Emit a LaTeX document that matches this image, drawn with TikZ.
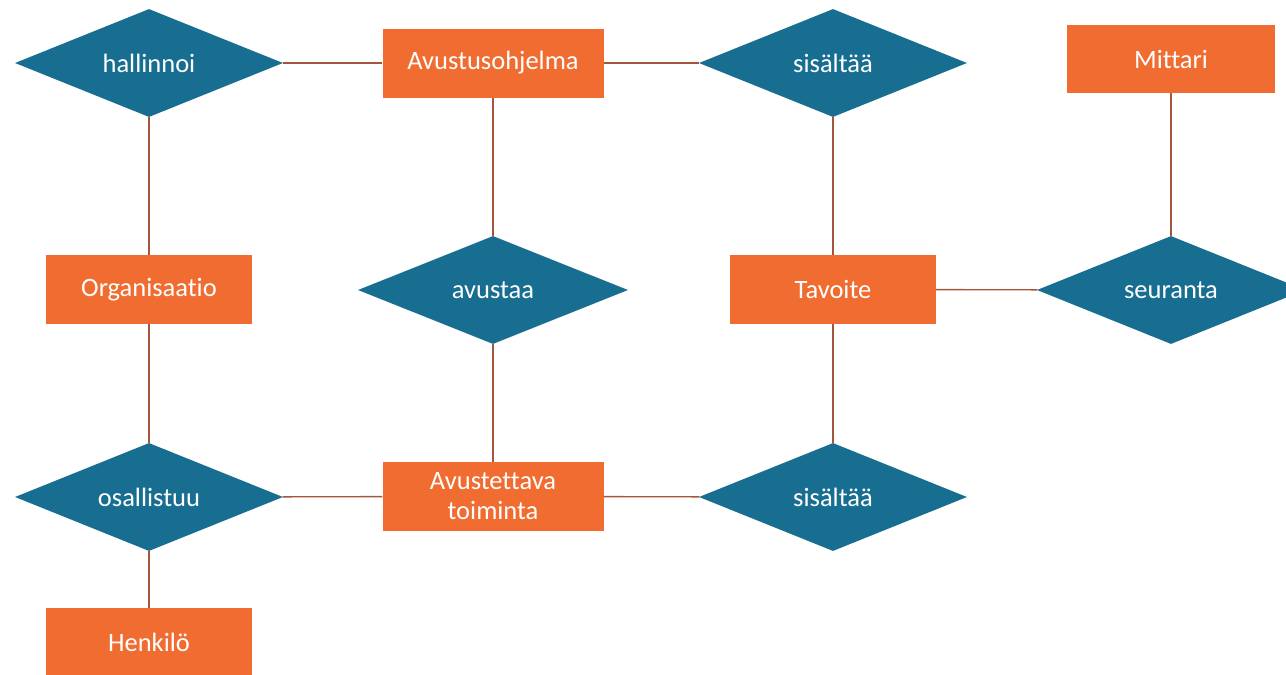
\documentclass[tikz,border=0pt]{standalone}
\usepackage{fontspec}
\setmainfont{Carlito}[Ligatures={NoCommon}]
\usetikzlibrary{shapes.geometric}
\definecolor{entorange}{RGB}{240,108,48}
\definecolor{relblue}{RGB}{24,110,145}
\definecolor{linkbrown}{RGB}{165,85,60}
\tikzset{
  entity/.style={rectangle, fill=entorange, text=white, inner sep=0pt,
    minimum height=69pt, align=center, font=\fontsize{26.5}{30}\selectfont},
  relation/.style={diamond, fill=relblue, text=white, inner sep=0pt,
    aspect=2.47, minimum width=268pt, minimum height=108pt,
    font=\fontsize{26.5}{30}\selectfont},
  link/.style={draw=linkbrown, line width=1.4pt}
}
\begin{document}
\begin{tikzpicture}[x=1pt,y=-1pt]
\clip (0,0) rectangle (1286,675);
\fill[white] (0,0) rectangle (1286,675);
\node[relation] (hall) at (149,63) {hallinnoi};
\node[relation] (sis1) at (833,63) {sisältää};
\node[relation, minimum width=270pt] (avu) at (493,290) {avustaa};
\node[relation] (seur) at (1171,290) {seuranta};
\node[relation] (osal) at (149,497) {osallistuu};
\node[relation] (sis2) at (833,497) {sisältää};
\node[entity, minimum width=221pt] (ohj) at (493,63) {Avustusohjelma};
\node[entity, minimum width=208pt, minimum height=68pt] (mitt) at (1171,59) {Mittari};
\node[entity, minimum width=206pt] (org) at (149,289.5) {Organisaatio};
\node[entity, minimum width=206pt] (tav) at (833,289.5) {Tavoite};
\node[entity, minimum width=221pt] (toim) at (493,496.5) {Avustettava\\toiminta};
\node[entity, minimum width=206pt] (henk) at (149,642.5) {Henkilö};
\draw[link] (hall) -- (ohj);
\draw[link] (ohj) -- (sis1);
\draw[link] (hall) -- (org);
\draw[link] (ohj) -- (avu);
\draw[link] (sis1) -- (tav);
\draw[link] (mitt) -- (seur);
\draw[link] (tav) -- (seur);
\draw[link] (org) -- (osal);
\draw[link] (avu) -- (toim);
\draw[link] (tav) -- (sis2);
\draw[link] (osal) -- (toim);
\draw[link] (toim) -- (sis2);
\draw[link] (osal) -- (henk);
\end{tikzpicture}
\end{document}
